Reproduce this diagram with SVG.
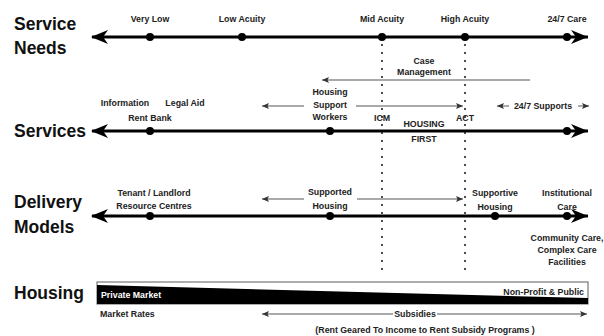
<svg xmlns="http://www.w3.org/2000/svg" width="604" height="336" viewBox="0 0 604 336">
<style>
text{font-family:"Liberation Sans",Arial,sans-serif;font-weight:bold;fill:#222}
.big{font-size:17.5px;fill:#111}
.sm{font-size:8.8px}
.c{text-anchor:middle}
.axis{stroke:#000;stroke-width:3.2;fill:none}
.thin{stroke:#555;stroke-width:1;fill:none}
.dot{fill:#000}
.dotted{stroke:#111;stroke-width:2;stroke-dasharray:0 8;stroke-linecap:round;fill:none}
</style>
<defs>
<marker id="bigL" markerUnits="userSpaceOnUse" markerWidth="18" markerHeight="14" refX="1" refY="7" orient="auto">
<path d="M0,7 L17,0 L12,7 L17,14 Z" fill="#000"/>
</marker>
<marker id="bigR" markerUnits="userSpaceOnUse" markerWidth="18" markerHeight="14" refX="17" refY="7" orient="auto">
<path d="M17,7 L0,0 L5,7 L0,14 Z" fill="#000"/>
</marker>
<marker id="sm" markerUnits="userSpaceOnUse" markerWidth="8" markerHeight="6" refX="7" refY="3" orient="auto">
<path d="M7,3 L0,0 L1.5,3 L0,6 Z" fill="#333"/>
</marker>
</defs>

<g id="row-labels">
<text class="big" x="14" y="30">Service</text>
<text class="big" x="14" y="54">Needs</text>
<text class="big" x="14" y="137">Services</text>
<text class="big" x="14" y="208">Delivery</text>
<text class="big" x="14" y="233">Models</text>
<text class="big" x="14" y="299">Housing</text>
</g>

<g id="connectors">
<line class="axis" x1="92" y1="37" x2="588" y2="37" marker-start="url(#bigL)" marker-end="url(#bigR)"/>
<line class="axis" x1="92" y1="131" x2="588" y2="131" marker-start="url(#bigL)" marker-end="url(#bigR)"/>
<line class="axis" x1="92" y1="216" x2="588" y2="216" marker-start="url(#bigL)" marker-end="url(#bigR)"/>
<line class="dotted" x1="382" y1="45" x2="382" y2="277"/>
<line class="dotted" x1="465" y1="45" x2="465" y2="277"/>
<line class="thin" x1="530" y1="80" x2="322" y2="80" marker-end="url(#sm)"/>
<line class="thin" x1="304" y1="106" x2="262" y2="106" marker-end="url(#sm)"/>
<line class="thin" x1="356" y1="106" x2="463" y2="106" marker-end="url(#sm)"/>
<line class="thin" x1="509" y1="106" x2="497" y2="106" marker-end="url(#sm)"/>
<line class="thin" x1="578" y1="106" x2="589" y2="106" marker-end="url(#sm)"/>
<line class="thin" x1="304" y1="199" x2="262" y2="199" marker-end="url(#sm)"/>
<line class="thin" x1="357" y1="199" x2="463" y2="199" marker-end="url(#sm)"/>
<line class="thin" x1="393" y1="314" x2="262" y2="314" marker-end="url(#sm)"/>
<line class="thin" x1="437" y1="314" x2="587" y2="314" marker-end="url(#sm)"/>
</g>

<g id="service-needs">
<circle class="dot" cx="150" cy="37" r="4"/>
<circle class="dot" cx="242" cy="37" r="4"/>
<circle class="dot" cx="382" cy="37" r="4"/>
<circle class="dot" cx="465" cy="37" r="4"/>
<circle class="dot" cx="567" cy="37" r="4"/>
<text class="sm c" x="150" y="22">Very Low</text>
<text class="sm c" x="242" y="22">Low Acuity</text>
<text class="sm c" x="382" y="22">Mid Acuity</text>
<text class="sm c" x="465" y="22">High Acuity</text>
<text class="sm c" x="567" y="22">24/7 Care</text>
</g>

<g id="case-management">
<text class="sm c" x="424" y="64">Case</text>
<text class="sm c" x="424" y="75">Management</text>
</g>

<g id="services">
<circle class="dot" cx="150" cy="131" r="4"/>
<circle class="dot" cx="330" cy="131" r="4"/>
<circle class="dot" cx="567" cy="131" r="4"/>
<text class="sm c" x="125" y="106">Information</text>
<text class="sm c" x="185" y="106">Legal Aid</text>
<text class="sm c" x="150" y="121">Rent Bank</text>
<text class="sm c" x="330" y="95">Housing</text>
<text class="sm c" x="330" y="108">Support</text>
<text class="sm c" x="330" y="120">Workers</text>
<text class="sm c" x="543" y="109">24/7 Supports</text>
<text class="sm c" x="382" y="121">ICM</text>
<text class="sm c" x="465" y="121">ACT</text>
<text class="sm c" x="424" y="127">HOUSING</text>
<text class="sm c" x="424" y="142">FIRST</text>
</g>

<g id="delivery-models">
<circle class="dot" cx="150" cy="216" r="4"/>
<circle class="dot" cx="330" cy="216" r="4"/>
<circle class="dot" cx="495" cy="216" r="4"/>
<circle class="dot" cx="567" cy="216" r="4"/>
<text class="sm c" x="154" y="196">Tenant / Landlord</text>
<text class="sm c" x="154" y="209">Resource Centres</text>
<text class="sm c" x="330" y="195">Supported</text>
<text class="sm c" x="330" y="209">Housing</text>
<text class="sm c" x="495" y="196">Supportive</text>
<text class="sm c" x="495" y="210">Housing</text>
<text class="sm c" x="567" y="196">Institutional</text>
<text class="sm c" x="567" y="210">Care</text>
<text class="sm c" x="567" y="241">Community Care,</text>
<text class="sm c" x="567" y="253">Complex Care</text>
<text class="sm c" x="567" y="265">Facilities</text>
</g>

<g id="housing">
<rect x="97" y="282" width="491" height="22" fill="#fff" stroke="#777" stroke-width="1.2"/>
<polygon points="97,285 588,298 588,304 97,304" fill="#000"/>
<text class="sm" x="101" y="298" style="fill:#fff">Private Market</text>
<text class="sm" x="584" y="295" text-anchor="end">Non-Profit &amp; Public</text>
<text class="sm" x="100" y="317">Market Rates</text>
<text class="sm c" x="415" y="317">Subsidies</text>
<text class="sm c" x="425" y="333">(Rent Geared To Income to Rent Subsidy Programs )</text>
</g>
</svg>
